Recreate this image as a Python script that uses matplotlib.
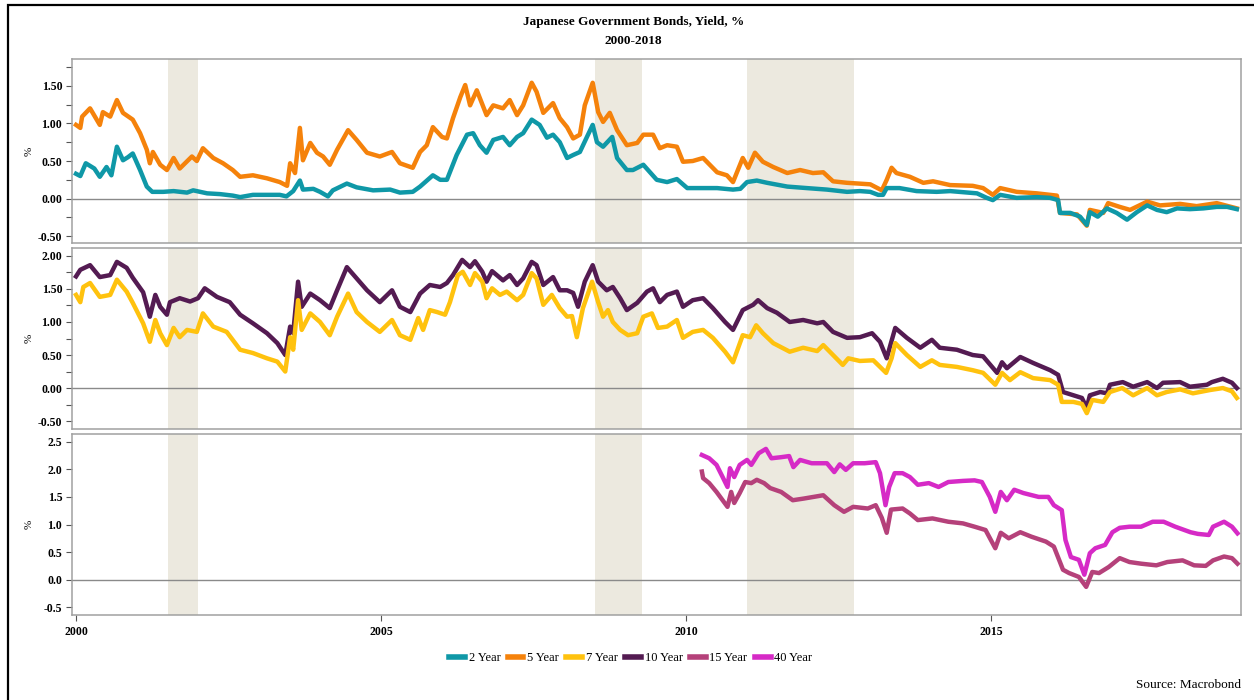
import matplotlib
matplotlib.use("Agg")
import matplotlib.pyplot as plt
from matplotlib.lines import Line2D
from matplotlib.patches import Rectangle
from matplotlib.ticker import MultipleLocator, FormatStrFormatter

plt.rcParams['font.family'] = ['Liberation Serif', 'DejaVu Serif']

# series (decimal year, yield %)
y2_t = [2000.0, 2000.07, 2000.16, 2000.3, 2000.39, 2000.5, 2000.58, 2000.67, 2000.77, 2000.85,
        2000.93, 2001.05, 2001.16, 2001.25, 2001.43, 2001.6, 2001.82, 2001.92, 2002.15, 2002.36,
        2002.57, 2002.69, 2002.9, 2003.13, 2003.34, 2003.45, 2003.56, 2003.67, 2003.72, 2003.89,
        2004.0, 2004.13, 2004.21, 2004.44, 2004.6, 2004.87, 2005.15, 2005.31, 2005.52, 2005.64,
        2005.85, 2005.97, 2006.08, 2006.24, 2006.41, 2006.51, 2006.62, 2006.73, 2006.84, 2007.0,
        2007.11, 2007.23, 2007.33, 2007.47, 2007.6, 2007.72, 2007.82, 2007.93, 2008.05, 2008.15,
        2008.26, 2008.37, 2008.47, 2008.54, 2008.64, 2008.79, 2008.87, 2009.03, 2009.13, 2009.3,
        2009.52, 2009.69, 2009.85, 2010.02, 2010.23, 2010.51, 2010.77, 2010.89, 2011.0, 2011.16,
        2011.33, 2011.66, 2011.98, 2012.31, 2012.64, 2012.85, 2013.02, 2013.15, 2013.23, 2013.29,
        2013.5, 2013.78, 2014.11, 2014.33, 2014.77, 2014.93, 2015.03, 2015.15, 2015.42, 2015.75,
        2015.97, 2016.1, 2016.13, 2016.3, 2016.46, 2016.57, 2016.62, 2016.75, 2016.9, 2017.06,
        2017.23, 2017.39, 2017.56, 2017.72, 2017.88, 2018.05, 2018.26, 2018.48, 2018.7, 2018.87,
        2019.03]
y2_v = [0.33, 0.30, 0.47, 0.40, 0.29, 0.42, 0.31, 0.69, 0.51, 0.55,
        0.60, 0.38, 0.16, 0.09, 0.09, 0.10, 0.08, 0.11, 0.07, 0.06,
        0.04, 0.02, 0.05, 0.05, 0.05, 0.03, 0.10, 0.24, 0.12, 0.13,
        0.09, 0.03, 0.11, 0.20, 0.15, 0.11, 0.12, 0.08, 0.09, 0.16,
        0.31, 0.25, 0.25, 0.58, 0.85, 0.87, 0.71, 0.61, 0.78, 0.82,
        0.71, 0.82, 0.87, 1.05, 0.98, 0.81, 0.85, 0.75, 0.54, 0.58,
        0.62, 0.81, 0.98, 0.75, 0.69, 0.82, 0.54, 0.38, 0.38, 0.45,
        0.25, 0.22, 0.26, 0.14, 0.14, 0.14, 0.12, 0.13, 0.22, 0.24,
        0.21, 0.16, 0.14, 0.12, 0.09, 0.10, 0.09, 0.05, 0.05, 0.14,
        0.14, 0.10, 0.09, 0.10, 0.07, 0.01, -0.02, 0.05, 0.01, 0.02,
        0.01, -0.02, -0.19, -0.19, -0.24, -0.35, -0.18, -0.24, -0.13, -0.19,
        -0.28, -0.18, -0.09, -0.15, -0.18, -0.13, -0.14, -0.13, -0.11, -0.11,
        -0.14]

y5_t = [2000.0, 2000.07, 2000.1, 2000.23, 2000.39, 2000.44, 2000.56, 2000.67, 2000.77, 2000.93,
        2001.05, 2001.16, 2001.21, 2001.26, 2001.38, 2001.49, 2001.6, 2001.7, 2001.9, 2001.98,
        2002.08, 2002.25, 2002.41, 2002.57, 2002.69, 2002.9, 2003.13, 2003.34, 2003.46, 2003.51,
        2003.59, 2003.67, 2003.72, 2003.84, 2003.95, 2004.05, 2004.16, 2004.28, 2004.46, 2004.6,
        2004.77, 2004.98, 2005.18, 2005.31, 2005.52, 2005.64, 2005.75, 2005.85, 2006.0, 2006.08,
        2006.18, 2006.3, 2006.38, 2006.46, 2006.57, 2006.73, 2006.84, 2007.0, 2007.11, 2007.23,
        2007.33, 2007.47, 2007.55, 2007.66, 2007.82, 2007.93, 2008.05, 2008.15, 2008.26, 2008.34,
        2008.47, 2008.56, 2008.64, 2008.75, 2008.87, 2009.03, 2009.2, 2009.3, 2009.46, 2009.57,
        2009.69, 2009.85, 2009.95, 2010.11, 2010.28, 2010.51, 2010.67, 2010.77, 2010.93, 2011.02,
        2011.13, 2011.26, 2011.43, 2011.66, 2011.87, 2012.08, 2012.25, 2012.41, 2012.64, 2013.02,
        2013.21, 2013.29, 2013.37, 2013.45, 2013.67, 2013.89, 2014.05, 2014.33, 2014.7, 2014.87,
        2015.03, 2015.15, 2015.42, 2015.75, 2016.08, 2016.13, 2016.41, 2016.57, 2016.62, 2016.84,
        2016.92, 2017.11, 2017.28, 2017.56, 2017.77, 2018.1, 2018.37, 2018.7, 2019.03]
y5_v = [0.98, 0.94, 1.09, 1.20, 0.98, 1.15, 1.09, 1.31, 1.14, 1.05,
        0.87, 0.65, 0.47, 0.62, 0.45, 0.38, 0.54, 0.40, 0.56, 0.50,
        0.67, 0.54, 0.47, 0.38, 0.29, 0.31, 0.27, 0.22, 0.17, 0.47,
        0.34, 0.94, 0.51, 0.74, 0.61, 0.56, 0.45, 0.65, 0.91, 0.78,
        0.61, 0.56, 0.62, 0.47, 0.41, 0.62, 0.71, 0.95, 0.82, 0.80,
        1.07, 1.35, 1.51, 1.24, 1.44, 1.11, 1.24, 1.20, 1.31, 1.11,
        1.24, 1.54, 1.42, 1.14, 1.27, 1.07, 0.95, 0.80, 0.85, 1.24,
        1.54, 1.15, 1.02, 1.14, 0.91, 0.71, 0.74, 0.85, 0.85, 0.67,
        0.71, 0.69, 0.49, 0.50, 0.54, 0.35, 0.31, 0.22, 0.54, 0.41,
        0.61, 0.49, 0.42, 0.34, 0.38, 0.34, 0.35, 0.23, 0.21, 0.19,
        0.11, 0.25, 0.41, 0.34, 0.29, 0.21, 0.23, 0.18, 0.17, 0.14,
        0.05, 0.14, 0.09, 0.07, 0.04, -0.19, -0.21, -0.36, -0.15, -0.19,
        -0.06, -0.11, -0.15, -0.04, -0.09, -0.07, -0.10, -0.06, -0.13]

y7_t = [2000.0, 2000.07, 2000.12, 2000.23, 2000.39, 2000.56, 2000.67, 2000.83, 2000.93, 2001.1,
        2001.21, 2001.3, 2001.38, 2001.49, 2001.6, 2001.7, 2001.82, 2001.98, 2002.08, 2002.25,
        2002.47, 2002.69, 2002.9, 2003.13, 2003.3, 2003.43, 2003.51, 2003.56, 2003.64, 2003.7,
        2003.84, 2004.0, 2004.16, 2004.28, 2004.46, 2004.6, 2004.77, 2004.98, 2005.18, 2005.31,
        2005.48, 2005.61, 2005.69, 2005.8, 2005.92, 2006.05, 2006.13, 2006.26, 2006.34, 2006.46,
        2006.54, 2006.66, 2006.73, 2006.82, 2006.95, 2007.06, 2007.23, 2007.33, 2007.47, 2007.55,
        2007.66, 2007.8, 2007.93, 2008.05, 2008.13, 2008.21, 2008.31, 2008.46, 2008.56, 2008.64,
        2008.72, 2008.8, 2008.92, 2009.05, 2009.2, 2009.3, 2009.44, 2009.54, 2009.69, 2009.85,
        2009.95, 2010.11, 2010.28, 2010.44, 2010.64, 2010.77, 2010.93, 2011.05, 2011.15, 2011.26,
        2011.43, 2011.7, 2011.92, 2012.15, 2012.25, 2012.41, 2012.57, 2012.66, 2012.85, 2013.07,
        2013.18, 2013.28, 2013.37, 2013.43, 2013.62, 2013.84, 2014.03, 2014.16, 2014.44, 2014.7,
        2014.87, 2015.07, 2015.18, 2015.31, 2015.48, 2015.69, 2015.97, 2016.1, 2016.16, 2016.35,
        2016.49, 2016.57, 2016.66, 2016.84, 2016.95, 2017.15, 2017.33, 2017.56, 2017.72, 2017.88,
        2018.1, 2018.31, 2018.59, 2018.8, 2018.95, 2019.03]
y7_v = [1.41, 1.30, 1.53, 1.59, 1.38, 1.41, 1.64, 1.46, 1.29, 0.98,
        0.70, 1.03, 0.83, 0.65, 0.91, 0.77, 0.88, 0.85, 1.13, 0.93,
        0.85, 0.58, 0.53, 0.45, 0.40, 0.25, 0.77, 0.58, 1.33, 0.88,
        1.13, 1.00, 0.80, 1.08, 1.43, 1.15, 1.00, 0.85, 1.03, 0.80,
        0.73, 1.06, 0.88, 1.18, 1.15, 1.11, 1.30, 1.71, 1.76, 1.56,
        1.74, 1.61, 1.36, 1.51, 1.41, 1.46, 1.33, 1.41, 1.74, 1.66,
        1.26, 1.41, 1.21, 1.08, 1.09, 0.77, 1.21, 1.61, 1.30, 1.08,
        1.18, 1.00, 0.88, 0.80, 0.83, 1.08, 1.13, 0.91, 0.93, 1.03,
        0.76, 0.85, 0.88, 0.76, 0.55, 0.39, 0.80, 0.77, 0.95, 0.83,
        0.68, 0.55, 0.61, 0.56, 0.65, 0.50, 0.35, 0.45, 0.41, 0.42,
        0.32, 0.23, 0.45, 0.68, 0.50, 0.32, 0.42, 0.35, 0.32, 0.27,
        0.23, 0.05, 0.23, 0.12, 0.24, 0.15, 0.12, 0.05, -0.21, -0.21,
        -0.24, -0.38, -0.18, -0.21, -0.06, 0.00, -0.11, 0.00, -0.11, -0.06,
        -0.02, -0.08, -0.03, 0.00, -0.05, -0.15]

y10_t = [2000.0, 2000.07, 2000.23, 2000.39, 2000.56, 2000.67, 2000.83, 2000.93, 2001.1, 2001.21,
         2001.3, 2001.38, 2001.49, 2001.54, 2001.7, 2001.87, 2002.0, 2002.11, 2002.31, 2002.52,
         2002.69, 2002.9, 2003.13, 2003.3, 2003.43, 2003.51, 2003.56, 2003.64, 2003.7, 2003.84,
         2004.0, 2004.16, 2004.28, 2004.44, 2004.6, 2004.77, 2004.98, 2005.18, 2005.31, 2005.48,
         2005.64, 2005.8, 2005.97, 2006.08, 2006.18, 2006.33, 2006.46, 2006.54, 2006.66, 2006.73,
         2006.82, 2007.0, 2007.11, 2007.23, 2007.33, 2007.47, 2007.55, 2007.66, 2007.82, 2007.93,
         2008.05, 2008.15, 2008.23, 2008.34, 2008.47, 2008.56, 2008.7, 2008.8, 2008.92, 2009.03,
         2009.2, 2009.36, 2009.46, 2009.57, 2009.69, 2009.85, 2009.95, 2010.11, 2010.28, 2010.44,
         2010.64, 2010.77, 2010.93, 2011.1, 2011.18, 2011.33, 2011.49, 2011.7, 2011.92, 2012.15,
         2012.25, 2012.41, 2012.64, 2012.85, 2013.05, 2013.18, 2013.29, 2013.35, 2013.43, 2013.62,
         2013.84, 2014.03, 2014.16, 2014.44, 2014.7, 2014.87, 2015.1, 2015.18, 2015.26, 2015.48,
         2015.69, 2015.97, 2016.1, 2016.18, 2016.35, 2016.49, 2016.57, 2016.62, 2016.79, 2016.9,
         2016.95, 2017.16, 2017.33, 2017.56, 2017.72, 2017.82, 2018.1, 2018.26, 2018.54, 2018.62,
         2018.8, 2018.95, 2019.03]
y10_v = [1.69, 1.79, 1.86, 1.68, 1.71, 1.91, 1.82, 1.67, 1.45, 1.08,
         1.41, 1.23, 1.11, 1.30, 1.36, 1.31, 1.36, 1.51, 1.38, 1.30,
         1.11, 0.98, 0.83, 0.68, 0.50, 0.93, 0.83, 1.61, 1.23, 1.43,
         1.33, 1.21, 1.48, 1.83, 1.66, 1.48, 1.30, 1.48, 1.23, 1.15,
         1.43, 1.56, 1.53, 1.59, 1.71, 1.94, 1.83, 1.92, 1.76, 1.61,
         1.77, 1.63, 1.71, 1.56, 1.66, 1.91, 1.86, 1.56, 1.68, 1.48,
         1.48, 1.44, 1.23, 1.61, 1.86, 1.61, 1.48, 1.53, 1.36, 1.18,
         1.29, 1.46, 1.51, 1.30, 1.41, 1.46, 1.23, 1.33, 1.36, 1.21,
         1.00, 0.88, 1.18, 1.26, 1.33, 1.21, 1.14, 1.00, 1.03, 0.98,
         1.00, 0.85, 0.76, 0.77, 0.83, 0.70, 0.45, 0.65, 0.91, 0.76,
         0.61, 0.73, 0.61, 0.58, 0.50, 0.48, 0.23, 0.39, 0.30, 0.47,
         0.38, 0.27, 0.20, -0.06, -0.11, -0.15, -0.30, -0.11, -0.06, -0.08,
         0.05, 0.09, 0.02, 0.09, 0.00, 0.08, 0.09, 0.02, 0.05, 0.09,
         0.14, 0.08, 0.00]

y15_t = [2010.26, 2010.28, 2010.38, 2010.5, 2010.6, 2010.68, 2010.74, 2010.79, 2010.88, 2010.97,
         2011.07, 2011.16, 2011.28, 2011.38, 2011.56, 2011.75, 2011.93, 2012.25, 2012.43, 2012.59,
         2012.74, 2012.98, 2013.11, 2013.21, 2013.29, 2013.36, 2013.55, 2013.67, 2013.8, 2014.04,
         2014.3, 2014.54, 2014.73, 2014.91, 2015.07, 2015.16, 2015.29, 2015.48, 2015.66, 2015.9,
         2016.03, 2016.18, 2016.28, 2016.44, 2016.56, 2016.66, 2016.77, 2016.93, 2017.11, 2017.27,
         2017.46, 2017.71, 2017.89, 2018.14, 2018.33, 2018.52, 2018.64, 2018.82, 2018.95, 2019.04]
y15_v = [1.96, 1.84, 1.75, 1.59, 1.44, 1.32, 1.59, 1.39, 1.57, 1.77,
         1.75, 1.81, 1.75, 1.66, 1.59, 1.44, 1.47, 1.53, 1.35, 1.23,
         1.32, 1.29, 1.35, 1.12, 0.85, 1.27, 1.29, 1.20, 1.08, 1.11,
         1.05, 1.02, 0.96, 0.90, 0.57, 0.85, 0.75, 0.86, 0.78, 0.69,
         0.60, 0.18, 0.12, 0.05, -0.13, 0.14, 0.12, 0.23, 0.39, 0.32,
         0.29, 0.26, 0.32, 0.35, 0.26, 0.25, 0.35, 0.42, 0.39, 0.29]

y40_t = [2010.26, 2010.38, 2010.5, 2010.6, 2010.68, 2010.72, 2010.79, 2010.88, 2011.0, 2011.07,
         2011.19, 2011.31, 2011.4, 2011.56, 2011.69, 2011.76, 2011.87, 2012.06, 2012.31, 2012.43,
         2012.52, 2012.62, 2012.74, 2012.93, 2013.11, 2013.18, 2013.27, 2013.33, 2013.42, 2013.55,
         2013.67, 2013.8, 2013.98, 2014.14, 2014.3, 2014.54, 2014.73, 2014.85, 2014.98, 2015.07,
         2015.16, 2015.26, 2015.38, 2015.53, 2015.78, 2015.94, 2016.03, 2016.16, 2016.22, 2016.31,
         2016.44, 2016.53, 2016.62, 2016.71, 2016.87, 2016.99, 2017.11, 2017.27, 2017.46, 2017.65,
         2017.83, 2018.02, 2018.27, 2018.39, 2018.57, 2018.64, 2018.82, 2018.95, 2019.04]
y40_v = [2.26, 2.20, 2.08, 1.86, 1.68, 2.02, 1.86, 2.08, 2.17, 2.08,
         2.29, 2.37, 2.20, 2.22, 2.24, 2.04, 2.17, 2.11, 2.11, 1.95,
         2.09, 1.99, 2.11, 2.11, 2.13, 1.93, 1.35, 1.68, 1.93, 1.93,
         1.86, 1.72, 1.75, 1.68, 1.77, 1.79, 1.80, 1.77, 1.50, 1.23,
         1.59, 1.44, 1.63, 1.57, 1.50, 1.50, 1.35, 1.26, 0.72, 0.41,
         0.36, 0.09, 0.48, 0.57, 0.63, 0.86, 0.94, 0.96, 0.96, 1.05,
         1.05, 0.96, 0.86, 0.83, 0.81, 0.96, 1.05, 0.96, 0.84]

# shaded periods
shade_start = [2001.5, 2008.5, 2011.0]
shade_end = [2002.0, 2009.28, 2012.75]

col = {'2 Year': '#0f98a7', '5 Year': '#f5820b', '7 Year': '#ffc20e',
       '10 Year': '#541b52', '15 Year': '#b5417a', '40 Year': '#d62ac6'}

fig = plt.figure(figsize=(12.54, 7.0), dpi=100)

# frame around the chart
fig.patches.append(Rectangle((8 / 1254, -0.05), 1.1, 1.05 - 5 / 700, transform=fig.transFigure,
                             fill=False, edgecolor='black', linewidth=1.6))

fig.text(0.505, 1 - 22 / 700, 'Japanese Government Bonds, Yield, %', ha='center', va='center',
         fontsize=9.5, fontweight='bold')
fig.text(0.505, 1 - 41 / 700, '2000-2018', ha='center', va='center', fontsize=9.5, fontweight='bold')

boxes = [(59, 243), (248, 429), (434, 615)]
ylims = [(-0.59, 1.856), (-0.62, 2.12), (-0.64, 2.64)]
left = 72 / 1254
width = (1241 - 72) / 1254

axes = []
for (top, bot), yl in zip(boxes, ylims):
    ax = fig.add_axes([left, 1 - bot / 700, width, (bot - top) / 700])
    ax.set_xlim(1999.934, 2019.098)
    ax.set_ylim(*yl)
    for s in ax.spines.values():
        s.set_color('#a0a0a0')
        s.set_linewidth(1.1)
    for a, b in zip(shade_start, shade_end):
        ax.axvspan(a, b, color='#ecE9df', lw=0, zorder=0)
    ax.axhline(0, color='#8a8a8a', lw=1.0, zorder=1)
    ax.set_ylabel('%', fontsize=8)
    ax.yaxis.set_label_coords(-38 / 1169, 0.5)
    ax.tick_params(axis='y', direction='out', length=4, width=0.8, color='#555555',
                   labelsize=8.5, pad=3)
    ax.tick_params(axis='y', which='minor', direction='out', length=4, width=0.8, color='#555555')
    axes.append(ax)

ax1, ax2, ax3 = axes

lw = 3.2
ax1.plot(y2_t, y2_v, color=col['2 Year'], lw=lw, zorder=3)
ax1.plot(y5_t, y5_v, color=col['5 Year'], lw=lw, zorder=2)
ax2.plot(y7_t, y7_v, color=col['7 Year'], lw=lw, zorder=3)
ax2.plot(y10_t, y10_v, color=col['10 Year'], lw=lw, zorder=2)
ax3.plot(y15_t, y15_v, color=col['15 Year'], lw=lw, zorder=3)
ax3.plot(y40_t, y40_v, color=col['40 Year'], lw=lw, zorder=2)

for ax in (ax1, ax2):
    ax.yaxis.set_major_locator(MultipleLocator(0.5))
    ax.yaxis.set_minor_locator(MultipleLocator(0.25))
    ax.yaxis.set_major_formatter(FormatStrFormatter('%.2f'))
    ax.set_xticks([])
ax3.yaxis.set_major_locator(MultipleLocator(0.5))
ax3.yaxis.set_major_formatter(FormatStrFormatter('%.1f'))
ax3.set_xticks([2000, 2005, 2010, 2015])
ax3.set_xticklabels(['2000', '2005', '2010', '2015'])
ax3.tick_params(axis='x', direction='out', length=4, width=0.8, color='#555555', labelsize=8.5, pad=4)
for ax in axes:
    for lab in ax.get_yticklabels() + ax.get_xticklabels():
        lab.set_fontweight('bold')

handles = [Line2D([], [], color=c, lw=4) for c in col.values()]
fig.legend(handles, list(col.keys()), loc='center', bbox_to_anchor=(0.503, 1 - 658 / 700),
           ncol=6, frameon=False, fontsize=9, handlelength=1.25, handletextpad=0.3,
           columnspacing=0.6)

fig.text(1241 / 1254, 1 - 685 / 700, 'Source: Macrobond', ha='right', va='center', fontsize=9.5)

fig.savefig('out.png', dpi=100)
